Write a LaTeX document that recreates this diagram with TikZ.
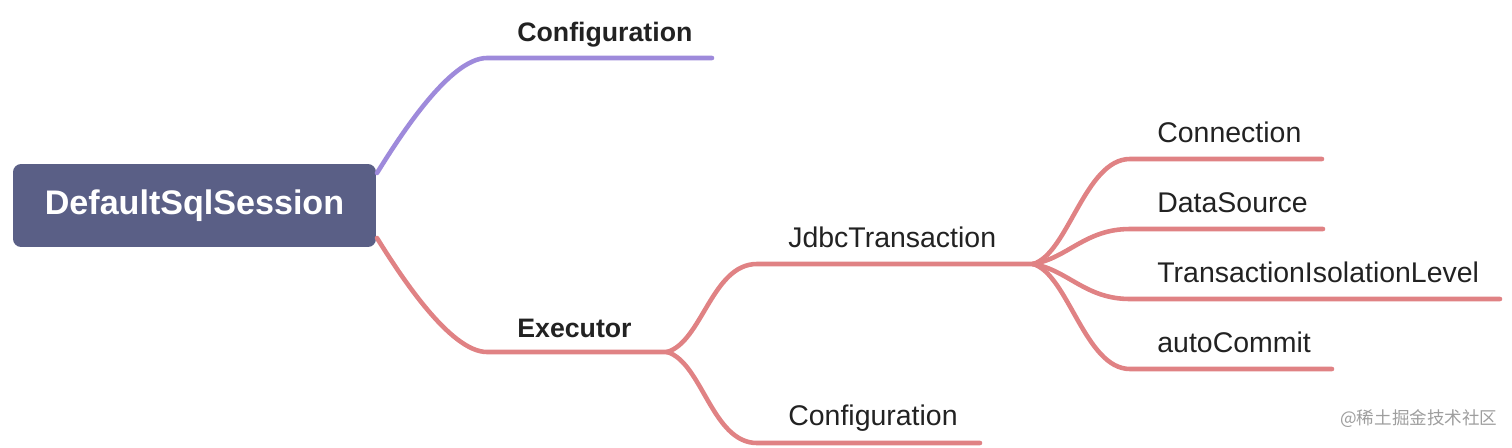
\documentclass[tikz,border=0pt]{standalone}
\usepackage{fontspec}
\setmainfont{Liberation Sans}
\newfontfamily\cjkfont{Noto Sans CJK SC}
\usetikzlibrary{positioning}
\usepackage{xcolor}
\definecolor{rootblue}{HTML}{5A5F86}
\definecolor{lilac}{HTML}{9E8ADB}
\definecolor{salmon}{HTML}{E08284}
\definecolor{inkgray}{HTML}{222222}

\begin{document}
\begin{tikzpicture}[x=0.02cm, y=-0.02cm,
rootbox/.style={fill=rootblue,
rounded corners=0.16cm,
minimum width=7.26cm,
minimum height=1.66cm,
text=white,
font=\bfseries\fontsize{19.4}{22}\selectfont},
topic/.style={anchor=base west, inner sep=0pt, text=inkgray,
font=\fontsize{16.2}{18}\selectfont},
maintopic/.style={topic, font=\bfseries\fontsize{15.2}{18}\selectfont},
branch/.style={line width=2.6pt, line cap=round}
]

\useasboundingbox (0,0) rectangle (1512,447);

\node[rootbox] (root) at (194.5,205.5) {DefaultSqlSession};

% line ends
\coordinate (cfgStart) at (377,173);
\coordinate (exeStart) at (377,238);
\coordinate (cfgL) at (487,58); \coordinate (cfgR) at (712,58);
\coordinate (exeL) at (487,352); \coordinate (exeR) at (667,352);
\coordinate (jdbcL) at (757,264); \coordinate (jdbcR) at (1033,264);
\coordinate (conf2L) at (757,443); \coordinate (conf2R) at (980,443);
\coordinate (connL) at (1130,159); \coordinate (connR) at (1322,159);
\coordinate (dsL) at (1130,229); \coordinate (dsR) at (1323,229);
\coordinate (isoL) at (1130,299); \coordinate (isoR) at (1500,299);
\coordinate (acL) at (1130,369); \coordinate (acR) at (1332,369);

\node[maintopic] (cfg) at ([shift={(30,-17)}]cfgL) {Configuration};
\node[maintopic] (exe) at ([shift={(30,-15)}]exeL) {Executor};
\node[topic] (jdbc) at ([shift={(31,-17)}]jdbcL) {JdbcTransaction};
\node[topic] (conf2) at ([shift={(31,-18)}]conf2L) {Configuration};
\node[topic] (conn) at ([shift={(27,-17)}]connL) {Connection};
\node[topic] (ds) at ([shift={(27,-17)}]dsL) {DataSource};
\node[topic] (iso) at ([shift={(27,-17)}]isoL) {TransactionIsolationLevel};
\node[topic] (ac) at ([shift={(27,-17)}]acL) {autoCommit};

\draw[branch, lilac] (cfgStart) .. controls +(23,-37) and +(-37,0) .. (cfgL) -- (cfgR);
\draw[branch, salmon] (exeStart) .. controls +(23,37) and +(-37,0) .. (exeL) -- (exeR);

\draw[branch, salmon] (exeR) .. controls +(35,-10) and +(-45,0) .. (jdbcL) -- (jdbcR);
\draw[branch, salmon] (exeR) .. controls +(35,10) and +(-45,0) .. (conf2L) -- (conf2R);

\foreach \kid/\dy in {conn/-10, ds/-6, iso/6, ac/10}
\draw[branch, salmon] (jdbcR) .. controls +(35,\dy) and +(-45,0) .. (\kid L) -- (\kid R);

\node[anchor=west, inner sep=0pt, text=black!38, font=\cjkfont\fontsize{10}{12}\selectfont] (mark) at (1340,419) {@稀土掘金技术社区};

\end{tikzpicture}
\end{document}
